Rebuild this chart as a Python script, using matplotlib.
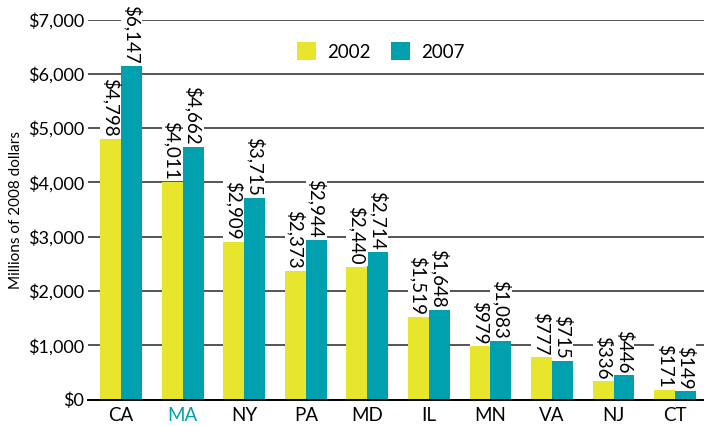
import matplotlib
matplotlib.use("Agg")
import matplotlib.pyplot as plt
import numpy as np

plt.rcParams['font.family'] = ['Lato', 'DejaVu Sans']

# data
states = ['CA', 'MA', 'NY', 'PA', 'MD', 'IL', 'MN', 'VA', 'NJ', 'CT']
vals_2002 = [4798, 4011, 2909, 2373, 2440, 1519, 979, 777, 336, 171]
vals_2007 = [6147, 4662, 3715, 2944, 2714, 1648, 1083, 715, 446, 149]

YELLOW = '#e8e62c'
TEAL = '#00a0ae'

fig = plt.figure(figsize=(7.04, 4.26), dpi=100)
ax = fig.add_axes([0.125, 0.062, 0.875, 0.892])

x = np.arange(len(states))
w = 0.34
b1 = ax.bar(x - w / 2, vals_2002, w, color=YELLOW, label='2002', zorder=2)
b2 = ax.bar(x + w / 2, vals_2007, w, color=TEAL, label='2007', zorder=2)

# value labels, rotated, white background over the grid
for bars, vals in [(b1, vals_2002), (b2, vals_2007)]:
    for r, v in zip(bars, vals):
        ax.text(r.get_x() + r.get_width() / 2, v + 40, f'${v:,}',
                rotation=270, ha='center', va='bottom', fontsize=13.5,
                zorder=3, bbox=dict(facecolor='white', edgecolor='none', pad=1))

ax.set_ylim(0, 7000)
ax.set_xlim(-0.54, 9.47)
ax.set_yticks(np.arange(0, 7001, 1000))
ax.set_yticklabels([f'${t:,}' for t in range(0, 7001, 1000)], fontsize=13)
ax.set_xticks(x)
ax.set_xticklabels(states, fontsize=13.5)
ax.get_xticklabels()[1].set_color(TEAL)

ax.grid(axis='y', color='#555555', linewidth=1.4, zorder=0)
for s in ['top', 'right', 'left']:
    ax.spines[s].set_visible(False)
ax.spines['bottom'].set_linewidth(1.4)
ax.tick_params(axis='y', length=0, pad=3)
ax.tick_params(axis='x', length=0, pad=5)

ax.set_ylabel('Millions of 2008 dollars', fontsize=11, labelpad=3)

leg = ax.legend(loc='upper center', bbox_to_anchor=(0.475, 0.985), ncol=2,
                frameon=True, fontsize=13.5, handlelength=1.0, handleheight=1.1,
                columnspacing=1.1, handletextpad=0.6)
leg.get_frame().set_facecolor('white')
leg.get_frame().set_edgecolor('none')
leg.get_frame().set_alpha(1)
leg.set_zorder(4)

fig.savefig('out.png', dpi=100)
